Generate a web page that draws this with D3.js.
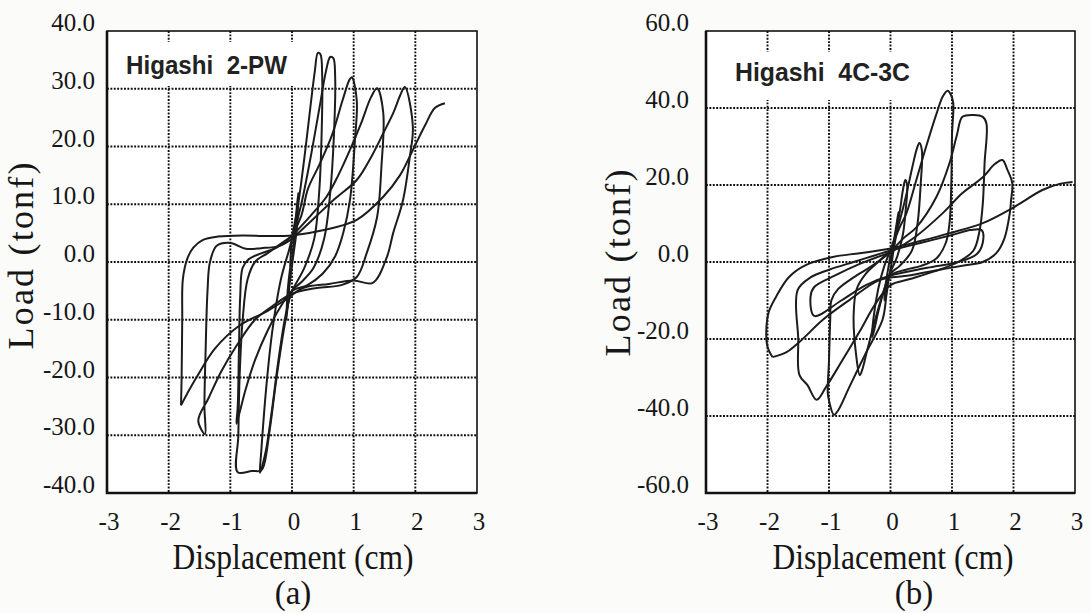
<!doctype html>
<meta charset="utf-8">
<title>Higashi load-displacement</title>
<script src="https://cdn.jsdelivr.net/npm/d3@7/dist/d3.min.js"></script>
<style>
  body { margin: 0; background: #fbfbf9; }
  .tick-label { font-family: "Liberation Serif", "Times New Roman", serif; font-size: 25px; fill: #161616; }
  .axis-title { font-family: "Liberation Serif", "Times New Roman", serif; fill: #161616; }
  .spec { font-family: "Liberation Sans", Arial, sans-serif; font-weight: bold; fill: #222; white-space: pre; }
  .grid { stroke: #0e0e0e; stroke-width: 1.9; stroke-dasharray: 1.9,1.5; fill: none; }
  .loop { fill: none; stroke: #1c1c1c; stroke-width: 2; stroke-linejoin: round; }
</style>
<body>
<svg id="chart" width="1091" height="613"></svg>
<script>

// displacement ticks (cm), shared by both panels
var dispTicks = [-3, -2, -1, 0, 1, 2, 3];
var loadTicksA = [-40, -30, -20, -10, 0, 10, 20, 30, 40];
var loadTicksB = [-60, -40, -20, 0, 20, 40, 60];

// Higashi 2-PW : cycles of [displacement cm, load tonf]
var loopsA = [
  [[0,0],[0.05,6],[0.1,12],[0.08,6],[0.02,1],[-0.04,-4],[-0.09,-10],[-0.07,-5],[-0.03,-1]],
  [[-0.03,-1],[0,4],[0.1,10],[0.2,18],[0.3,27],[0.37,33],[0.42,36.2],[0.46,36],[0.49,32],[0.48,22],[0.44,12],[0.36,4],[0.2,-1],[0.05,-4],[0,-5],[-0.1,-9],[-0.22,-17],[-0.33,-26],[-0.43,-33],[-0.52,-36.5],[-0.5,-33],[-0.42,-22],[-0.32,-12],[-0.18,-3],[-0.05,2],[0,4]],
  [[0,4],[0.15,10],[0.3,18],[0.45,27],[0.55,33],[0.62,35.5],[0.67,35.3],[0.7,32],[0.68,22],[0.62,12],[0.52,4],[0.35,-1],[0.15,-3.5],[0,-5],[-0.12,-11],[-0.25,-20],[-0.36,-29],[-0.45,-35],[-0.5,-36.1],[-0.65,-36.2],[-0.88,-36.4],[-0.87,-30],[-0.85,-20],[-0.8,-10],[-0.72,-3],[-0.6,0],[-0.4,1.5],[-0.2,3],[0,4.5]],
  [[0,4.5],[0.15,8],[0.26,12.7],[0.45,17],[0.65,22],[0.82,28],[0.93,31.5],[0.97,32],[1.05,28],[1.02,21],[0.94,10.7],[0.83,5],[0.7,1],[0.5,-2],[0.25,-4],[0,-5],[-0.2,-8],[-0.4,-12],[-0.6,-17],[-0.75,-22],[-0.86,-26.5],[-0.9,-28],[-0.88,-25],[-0.86,-15],[-0.84,-6],[-0.8,-1],[-0.7,0.5],[-0.5,1.5],[-0.25,2.5],[0,4.5]],
  [[0,4.5],[0.3,8],[0.56,11.3],[0.75,15],[0.94,19.4],[1.12,24],[1.28,28.5],[1.38,30.1],[1.48,25.8],[1.45,16.5],[1.38,7.8],[1.21,1.5],[1.05,-2.6],[0.8,-4],[0.4,-4.5],[0,-5.5],[-0.3,-7.5],[-0.6,-10],[-0.9,-14.5],[-1.15,-19],[-1.35,-23.5],[-1.52,-27.5],[-1.41,-29.8],[-1.42,-25],[-1.4,-15],[-1.37,-5],[-1.33,0],[-1.22,2.8],[-1.0,3.3],[-0.75,2.3],[-0.5,2.4],[-0.2,2.8],[0,4]],
  [[0,4],[0.35,7.5],[0.7,11],[1.05,14.2],[1.3,18.5],[1.48,22.3],[1.65,26],[1.76,29],[1.83,30.3],[1.96,23.4],[1.91,18.2],[1.8,10.7],[1.64,5],[1.54,0.9],[1.31,-3.6],[1.0,-3.2],[0.6,-3.8],[0.18,-4.5],[-0.1,-6.5],[-0.4,-8.5],[-0.85,-11],[-1.25,-15],[-1.55,-20],[-1.7,-22.8],[-1.8,-24.8]],
  [[-1.8,-24.8],[-1.79,-20],[-1.78,-10],[-1.77,-3],[-1.7,0.5],[-1.6,2.5],[-1.45,3.8],[-1.2,4.4],[-0.8,4.6],[-0.4,4.5],[0,4.6],[0.5,5.5],[1.05,7.3],[1.48,11.3],[1.75,15],[1.96,19.4],[2.15,23.5],[2.32,26.7],[2.48,27.5]]
];

// Higashi 4C-3C
var loopsB = [
  [[0,0],[0.05,5],[0.1,10],[0.13,13],[0.1,8],[0.05,3],[0,-2],[-0.05,-6],[-0.1,-10],[-0.08,-6],[-0.03,-1],[0,2]],
  [[0,2],[0.08,7],[0.15,13],[0.2,18.5],[0.24,21.3],[0.27,20],[0.25,14],[0.2,7],[0.1,1],[0,-2.5],[-0.1,-7],[-0.2,-13],[-0.27,-18],[-0.3,-19.5],[-0.28,-15],[-0.2,-7],[-0.1,-1],[0,3]],
  [[0,3],[0.12,9],[0.25,17],[0.36,25],[0.43,29.5],[0.47,30.9],[0.51,29],[0.49,20],[0.44,10],[0.35,3],[0.15,-1],[0,-3],[-0.12,-8],[-0.25,-15],[-0.38,-23],[-0.46,-28],[-0.5,-29.4],[-0.56,-24],[-0.6,-14],[-0.55,-7],[-0.4,-3],[-0.2,0],[0,3]],
  [[0,3],[0.15,9],[0.26,12.7],[0.42,21.3],[0.58,30],[0.75,38.6],[0.85,43],[0.93,44.5],[0.98,43.5],[1.02,41.3],[1.0,33],[0.99,21.3],[0.96,10.1],[0.9,5],[0.75,1],[0.5,-1],[0.25,-2],[0,-3.5],[-0.06,-8],[-0.13,-15],[-0.4,-23.6],[-0.67,-32.5],[-0.85,-38.5],[-0.92,-39.7],[-1.0,-36],[-1.02,-34],[-1.0,-25.5],[-0.98,-15],[-0.96,-9.9],[-0.85,-7],[-0.6,-4],[-0.3,-1],[0,2.5]],
  [[0,2.5],[0.2,6],[0.42,9],[0.75,17],[0.96,25.7],[1.08,33],[1.17,37.7],[1.35,38.2],[1.5,37.7],[1.56,36],[1.53,25.7],[1.5,15],[1.45,8.3],[1.35,3],[1.1,0],[0.7,-2.5],[0.3,-4.5],[0,-6],[-0.25,-11],[-0.5,-18],[-0.8,-26],[-1.05,-32.5],[-1.2,-35.8],[-1.35,-32],[-1.48,-29.4],[-1.5,-20],[-1.51,-7.3],[-1.3,-4],[-1.0,-2],[-0.6,0],[-0.3,1.5],[0,3]],
  [[0,3],[0.5,5],[1.0,7],[1.3,8.3],[1.48,8.3],[1.5,5],[1.4,2],[1.1,0],[0.6,-1.5],[0,-3.5],[-0.4,-6],[-0.8,-10],[-1.24,-14],[-1.3,-9],[-1.24,-6.5],[-0.9,-3.5],[-0.5,-0.5],[0,2.5]],
  [[0,2.5],[0.4,6.5],[0.85,12.7],[1.17,17.9],[1.5,22],[1.7,25.5],[1.82,26.5],[1.9,24],[1.98,20.5],[1.96,16],[1.94,12.7],[1.85,6],[1.72,2.3],[1.5,0],[1.24,-0.8],[0.8,-2],[0.3,-3.5],[-0.18,-4.7],[-0.67,-9.9],[-1.1,-15],[-1.45,-20.3],[-1.69,-23.4],[-1.92,-24.7]],
  [[-1.92,-24.7],[-2.0,-22],[-2.02,-18],[-1.98,-13],[-1.86,-9],[-1.65,-3.9],[-1.38,-0.8],[-0.94,1.3],[-0.5,2.3],[0,3.5],[0.5,5.5],[0.96,7.5],[1.5,10.1],[1.98,14],[2.47,18.7],[2.75,20.3],[2.96,20.8]]
];

var panels = [
  { id: 'a', left: 107, right: 477, top: 31, bottom: 493, loadTicks: loadTicksA, loops: loopsA,
    name: 'Higashi  2-PW', nameX: 126, nameY: 74, nameLen: 161, box: [109, 42, 192, 44],
    yLabelX: 95, loadTitleX: 33, loadTitleY: 256, dispTitleX: 293, capX: 293 },
  { id: 'b', left: 706, right: 1075, top: 31, bottom: 493, loadTicks: loadTicksB, loops: loopsB,
    name: 'Higashi  4C-3C', nameX: 735, nameY: 81, nameLen: 175, box: [708, 52, 212, 48],
    yLabelX: 689, loadTitleX: 630, loadTitleY: 263, dispTitleX: 893, capX: 914 }
];

var svg = d3.select('#chart');

function drawPanel(p) {
  var lt = p.loadTicks;
  var x = d3.scaleLinear().domain([dispTicks[0], dispTicks[dispTicks.length - 1]]).range([p.left, p.right]);
  var y = d3.scaleLinear().domain([lt[0], lt[lt.length - 1]]).range([p.bottom, p.top]);
  var g = svg.append('g').attr('class', 'panel-' + p.id);

  g.append('rect')
    .attr('x', p.left).attr('y', p.top)
    .attr('width', p.right - p.left).attr('height', p.bottom - p.top)
    .style('fill', '#fff');

  // dotted grid, interior ticks only
  g.selectAll('line.gx')
    .data(dispTicks.slice(1, -1))
    .enter().append('line')
    .attr('class', 'grid')
    .attr('x1', function(d) { return x(d) }).attr('x2', function(d) { return x(d) })
    .attr('y1', p.top).attr('y2', p.bottom);

  g.selectAll('line.gy')
    .data(lt.slice(1, -1))
    .enter().append('line')
    .attr('class', 'grid')
    .attr('y1', function(d) { return y(d) }).attr('y2', function(d) { return y(d) })
    .attr('x1', p.left).attr('x2', p.right);

  // label sits on a white patch that hides the grid behind it
  g.append('rect')
    .attr('x', p.box[0]).attr('y', p.box[1])
    .attr('width', p.box[2]).attr('height', p.box[3])
    .style('fill', '#fff');

  g.append('text')
    .attr('class', 'spec')
    .attr('x', p.nameX).attr('y', p.nameY)
    .attr('font-size', 25)
    .attr('textLength', p.nameLen)
    .attr('lengthAdjust', 'spacingAndGlyphs')
    .text(p.name);

  var line = d3.line()
    .x(function(d) { return x(d[0]) })
    .y(function(d) { return y(d[1]) })
    .curve(d3.curveCatmullRom.alpha(0.5));

  g.selectAll('path.loop')
    .data(p.loops)
    .enter().append('path')
    .attr('class', 'loop')
    .attr('d', line);

  // frame: heavier left and bottom edges
  g.append('rect')
    .attr('x', p.left).attr('y', p.top)
    .attr('width', p.right - p.left).attr('height', p.bottom - p.top)
    .style('fill', 'none').style('stroke', '#111').style('stroke-width', 1.6);
  g.append('path')
    .attr('d', 'M' + p.left + ',' + p.top + 'V' + p.bottom + 'H' + p.right)
    .style('fill', 'none').style('stroke', '#111').style('stroke-width', 2.6);

  // tick labels, baseline on the grid line
  g.selectAll('text.yl')
    .data(lt)
    .enter().append('text')
    .attr('class', 'tick-label')
    .attr('x', p.yLabelX)
    .attr('y', function(d) { return y(d) })
    .attr('text-anchor', 'end')
    .text(function(d) { return d.toFixed(1) });

  g.selectAll('text.xl')
    .data(dispTicks)
    .enter().append('text')
    .attr('class', 'tick-label')
    .attr('x', function(d) { return x(d) + 2 })
    .attr('y', 530)
    .attr('text-anchor', 'middle')
    .text(function(d) { return d });

  g.append('text')
    .attr('class', 'axis-title')
    .attr('transform', 'translate(' + p.loadTitleX + ',' + p.loadTitleY + ') rotate(-90)')
    .attr('text-anchor', 'middle')
    .attr('font-size', 36)
    .attr('textLength', 187)
    .text('Load (tonf)');

  g.append('text')
    .attr('class', 'axis-title')
    .attr('x', p.dispTitleX).attr('y', 569)
    .attr('text-anchor', 'middle')
    .attr('font-size', 35)
    .attr('textLength', 241)
    .attr('lengthAdjust', 'spacingAndGlyphs')
    .text('Displacement (cm)');

  g.append('text')
    .attr('class', 'axis-title')
    .attr('x', p.capX).attr('y', 604)
    .attr('text-anchor', 'middle')
    .attr('font-size', 33)
    .text('(' + p.id + ')');
}

panels.forEach(drawPanel);

</script>
</body>
